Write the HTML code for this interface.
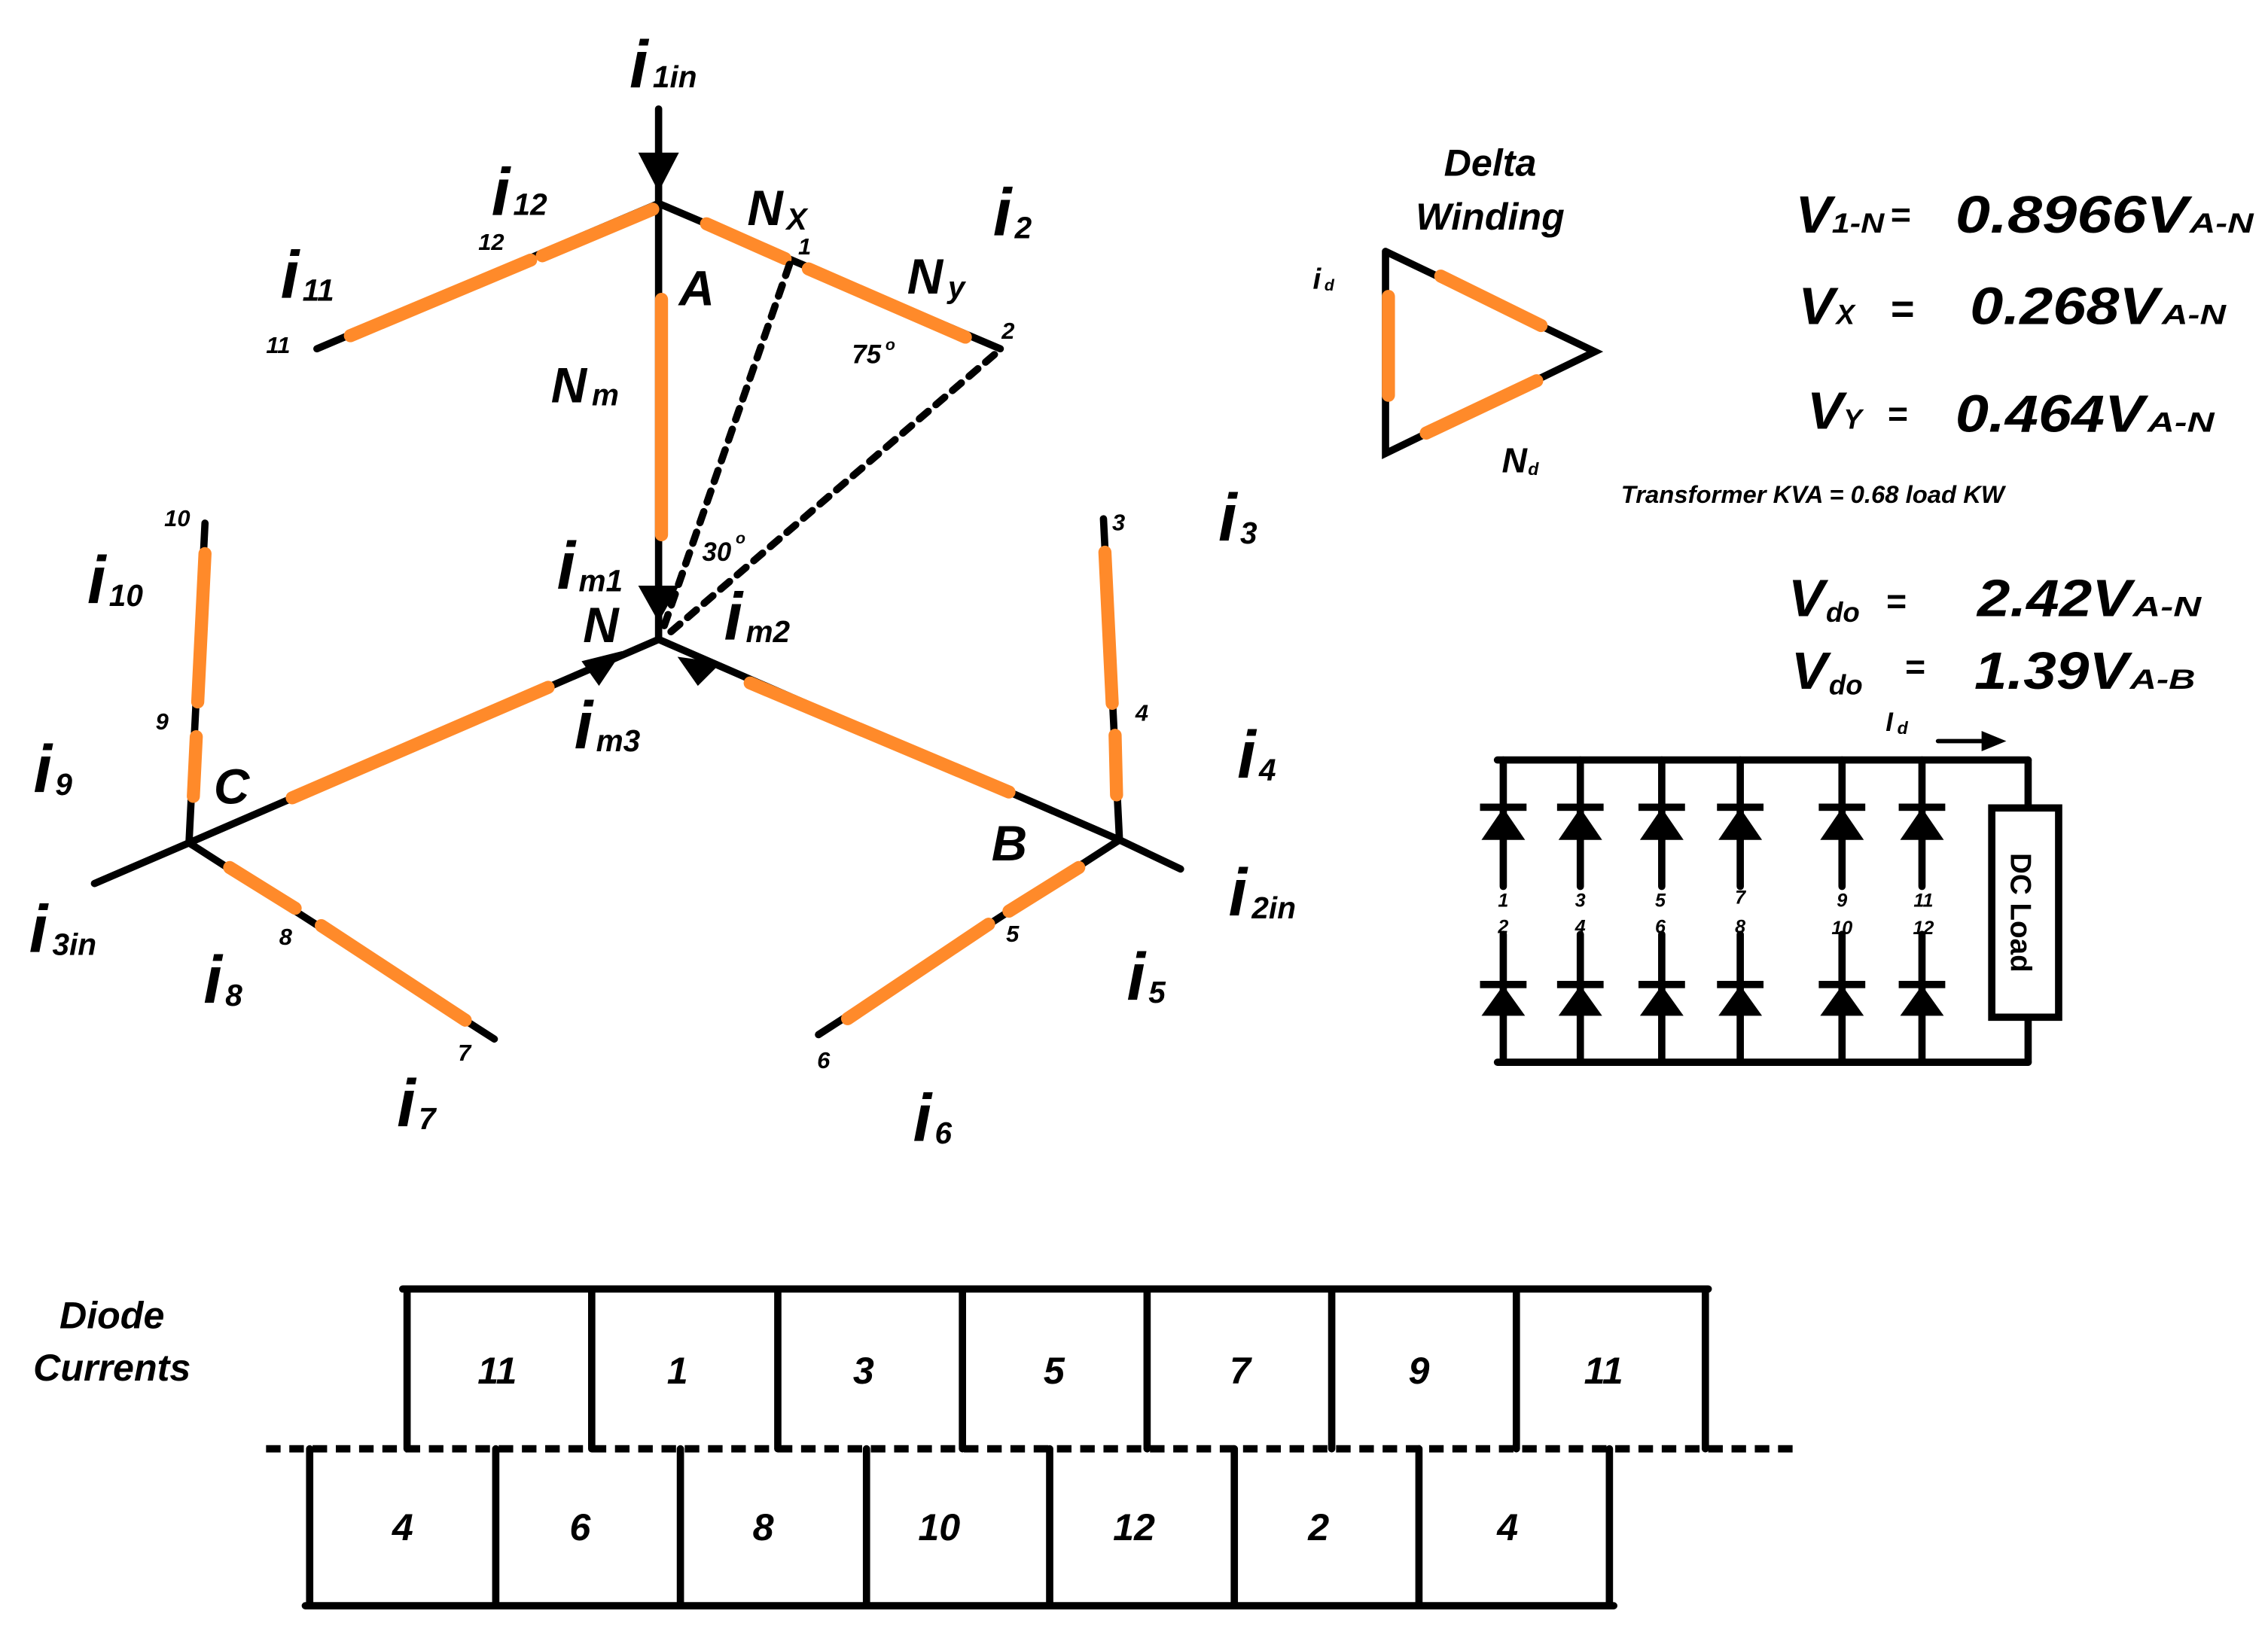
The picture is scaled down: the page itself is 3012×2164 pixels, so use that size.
<!DOCTYPE html>
<html><head><meta charset="utf-8"><style>
html,body{margin:0;padding:0;background:#fff;}
svg{display:block;}
text{font-family:"Liberation Sans",sans-serif;font-weight:bold;font-style:italic;fill:#000;}
.k{stroke:#000;stroke-width:5;stroke-linecap:round;fill:none;}
.o{stroke:#ff8a2a;stroke-width:9;stroke-linecap:round;fill:none;}
.d{stroke:#000;stroke-width:5;stroke-dasharray:8 7;stroke-linecap:round;fill:none;}
.big{font-size:46px;}
.sub{font-size:21px;}
.sm{font-size:16px;}
.lbl{font-size:34px;}
.eq{font-size:36px;}
.eqs{font-size:19px;}
</style></head><body>
<svg width="3012" height="2164" viewBox="0 0 1560 1121" preserveAspectRatio="none" xmlns="http://www.w3.org/2000/svg">
<rect width="1560" height="1121" fill="#fff"/>
<line class="k" x1="453" y1="75" x2="453" y2="140"/>
<polygon points="439,105 467,105 453,132" fill="#000"/>
<line class="k" x1="453" y1="140" x2="218" y2="240"/>
<line class="k" x1="453" y1="140" x2="688" y2="240"/>
<line class="k" x1="453" y1="140" x2="453" y2="440"/>
<line class="o" x1="241" y1="231" x2="365" y2="179"/>
<line class="o" x1="373" y1="176" x2="449" y2="144"/>
<line class="o" x1="486" y1="154" x2="540" y2="178"/>
<line class="o" x1="556" y1="185" x2="664" y2="232"/>
<line class="o" x1="455" y1="206" x2="455" y2="368"/>
<polygon points="439,403 467,403 453,428" fill="#000"/>
<line class="d" x1="543" y1="182" x2="455" y2="436"/>
<line class="d" x1="684" y1="244" x2="460" y2="436"/>
<line class="k" x1="453" y1="440" x2="130" y2="580"/>
<line class="k" x1="453" y1="440" x2="770" y2="578"/>
<line class="o" x1="201" y1="549" x2="377" y2="473"/>
<line class="o" x1="516" y1="470" x2="694" y2="545"/>
<polygon points="400,455 428,448 412,472" fill="#000"/>
<polygon points="466,452 496,456 480,472" fill="#000"/>
<line class="k" x1="130" y1="580" x2="65" y2="608"/>
<line class="k" x1="130" y1="580" x2="340" y2="715"/>
<line class="k" x1="130" y1="580" x2="141" y2="360"/>
<line class="o" x1="133" y1="548" x2="135" y2="507"/>
<line class="o" x1="136" y1="483" x2="141" y2="381"/>
<line class="o" x1="158" y1="597" x2="203" y2="625"/>
<line class="o" x1="221" y1="637" x2="320" y2="702"/>
<line class="k" x1="770" y1="578" x2="812" y2="598"/>
<line class="k" x1="770" y1="578" x2="563" y2="712"/>
<line class="k" x1="770" y1="578" x2="759" y2="357"/>
<line class="o" x1="768" y1="547" x2="767" y2="506"/>
<line class="o" x1="765" y1="484" x2="760" y2="380"/>
<line class="o" x1="742" y1="597" x2="694" y2="627"/>
<line class="o" x1="680" y1="636" x2="583" y2="701"/>
<text class="big" x="433" y="60">i</text><text class="sub" x="449" y="60">1in</text>
<text class="big" x="338" y="148">i</text><text class="sub" x="353" y="148">12</text>
<text class="big" x="193" y="205">i</text><text class="sub" x="208" y="207">11</text>
<text class="big" x="683" y="162">i</text><text class="sub" x="698" y="164">2</text>
<text class="big" x="838" y="372">i</text><text class="sub" x="853" y="374">3</text>
<text class="big" x="60" y="415">i</text><text class="sub" x="75" y="417">10</text>
<text class="big" x="23" y="545">i</text><text class="sub" x="38" y="547">9</text>
<text class="big" x="20" y="655">i</text><text class="sub" x="36" y="657">3in</text>
<text class="big" x="140" y="690">i</text><text class="sub" x="155" y="692">8</text>
<text class="big" x="273" y="775">i</text><text class="sub" x="288" y="777">7</text>
<text class="big" x="628" y="785">i</text><text class="sub" x="643" y="787">6</text>
<text class="big" x="775" y="688">i</text><text class="sub" x="790" y="690">5</text>
<text class="big" x="845" y="630">i</text><text class="sub" x="861" y="632">2in</text>
<text class="big" x="851" y="535">i</text><text class="sub" x="866" y="537">4</text>
<text class="big" x="383" y="405">i</text><text class="sub" x="398" y="407">m1</text>
<text class="big" x="498" y="440">i</text><text class="sub" x="513" y="442">m2</text>
<text class="big" x="395" y="515">i</text><text class="sub" x="410" y="517">m3</text>
<text class="lbl" x="467" y="210">A</text>
<text class="lbl" x="401" y="442">N</text>
<text class="lbl" x="147" y="553">C</text>
<text class="lbl" x="682" y="592">B</text>
<text class="lbl" x="514" y="155">N</text><text class="sub" x="541" y="158">X</text>
<text class="lbl" x="624" y="202">N</text><text class="sub" x="652" y="205">y</text>
<text class="lbl" x="379" y="277">N</text><text class="sub" x="407" y="279">m</text>
<text style="font-size:18px" x="586" y="250">75</text><text style="font-size:11px" x="609" y="241">o</text>
<text style="font-size:18px" x="483" y="386">30</text><text style="font-size:11px" x="506" y="374">o</text>
<text class="sm" x="329" y="172">12</text>
<text class="sm" x="183" y="243">11</text>
<text class="sm" x="549" y="175">1</text>
<text class="sm" x="689" y="233">2</text>
<text class="sm" x="113" y="362">10</text>
<text class="sm" x="107" y="502">9</text>
<text class="sm" x="765" y="365">3</text>
<text class="sm" x="781" y="496">4</text>
<text class="sm" x="192" y="650">8</text>
<text class="sm" x="315" y="730">7</text>
<text class="sm" x="692" y="648">5</text>
<text class="sm" x="562" y="735">6</text>
<text style="font-size:26px" x="1025" y="121" text-anchor="middle">Delta</text>
<text style="font-size:26px" x="1025" y="158" text-anchor="middle">Winding</text>
<polyline class="k" points="953,173 1097,242 953,312 953,173"/>
<line class="o" x1="955" y1="204" x2="955" y2="272"/>
<line class="o" x1="991" y1="190" x2="1060" y2="224"/>
<line class="o" x1="981" y1="298" x2="1057" y2="262"/>
<text style="font-size:20px" x="903" y="199">i</text><text style="font-size:11px" x="911" y="200">d</text>
<text style="font-size:24px" x="1033" y="325">N</text><text style="font-size:12px" x="1051" y="327">d</text>
<!-- equations -->
<text class="eq" x="1235" y="160" textLength="25" lengthAdjust="spacingAndGlyphs">V</text><text class="eqs" x="1260" y="160" textLength="36" lengthAdjust="spacingAndGlyphs">1-N</text><text class="eqs" x="1300" y="156" style="font-size:24px">=</text>
<text class="eq" x="1345" y="160" textLength="160" lengthAdjust="spacingAndGlyphs">0.8966V</text><text class="eqs" x="1506" y="160" textLength="44" lengthAdjust="spacingAndGlyphs">A-N</text>
<text class="eq" x="1237" y="223" textLength="25" lengthAdjust="spacingAndGlyphs">V</text><text class="eqs" x="1263" y="223">X</text><text x="1300" y="222" style="font-size:28px">=</text>
<text class="eq" x="1355" y="223" textLength="130" lengthAdjust="spacingAndGlyphs">0.268V</text><text class="eqs" x="1487" y="223" textLength="44" lengthAdjust="spacingAndGlyphs">A-N</text>
<text class="eq" x="1243" y="295" textLength="25" lengthAdjust="spacingAndGlyphs">V</text><text class="eqs" x="1268" y="295">Y</text><text x="1298" y="293" style="font-size:24px">=</text>
<text class="eq" x="1345" y="297" textLength="130" lengthAdjust="spacingAndGlyphs">0.464V</text><text class="eqs" x="1477" y="297" textLength="46" lengthAdjust="spacingAndGlyphs">A-N</text>
<text style="font-size:17px" x="1115" y="346">Transformer KVA = 0.68 load KW</text>
<text class="eq" x="1230" y="424" textLength="25" lengthAdjust="spacingAndGlyphs">V</text><text class="eqs" x="1256" y="428">do</text><text x="1297" y="422" style="font-size:24px">=</text>
<text class="eq" x="1360" y="424" textLength="106" lengthAdjust="spacingAndGlyphs">2.42V</text><text class="eqs" x="1467" y="424" textLength="47" lengthAdjust="spacingAndGlyphs">A-N</text>
<text class="eq" x="1232" y="474" textLength="25" lengthAdjust="spacingAndGlyphs">V</text><text class="eqs" x="1258" y="478">do</text><text x="1310" y="467" style="font-size:24px">=</text>
<text class="eq" x="1358" y="474" textLength="106" lengthAdjust="spacingAndGlyphs">1.39V</text><text class="eqs" x="1465" y="474" textLength="45" lengthAdjust="spacingAndGlyphs">A-B</text>
<!-- rectifier -->
<text style="font-size:18px" x="1297" y="503">I</text><text style="font-size:12px" x="1305" y="505">d</text>
<line class="k" x1="1333" y1="510" x2="1365" y2="510" style="stroke-width:3"/>
<polygon points="1363,503 1380,510 1363,517" fill="#000"/>
<line class="k" x1="1030" y1="523" x2="1395" y2="523"/>
<line class="k" x1="1030" y1="731" x2="1395" y2="731"/>
<g fill="#000">
<g>
<line class="k" x1="1034" y1="523" x2="1034" y2="610"/><rect x="1018" y="553" width="32" height="5"/><polygon points="1034,556 1019,578 1049,578"/>
<line class="k" x1="1034" y1="643" x2="1034" y2="731"/><rect x="1018" y="675" width="32" height="5"/><polygon points="1034,678 1019,699 1049,699"/>
</g>
<g>
<line class="k" x1="1087" y1="523" x2="1087" y2="610"/><rect x="1071" y="553" width="32" height="5"/><polygon points="1087,556 1072,578 1102,578"/>
<line class="k" x1="1087" y1="643" x2="1087" y2="731"/><rect x="1071" y="675" width="32" height="5"/><polygon points="1087,678 1072,699 1102,699"/>
</g>
<g>
<line class="k" x1="1143" y1="523" x2="1143" y2="610"/><rect x="1127" y="553" width="32" height="5"/><polygon points="1143,556 1128,578 1158,578"/>
<line class="k" x1="1143" y1="643" x2="1143" y2="731"/><rect x="1127" y="675" width="32" height="5"/><polygon points="1143,678 1128,699 1158,699"/>
</g>
<g>
<line class="k" x1="1197" y1="523" x2="1197" y2="610"/><rect x="1181" y="553" width="32" height="5"/><polygon points="1197,556 1182,578 1212,578"/>
<line class="k" x1="1197" y1="643" x2="1197" y2="731"/><rect x="1181" y="675" width="32" height="5"/><polygon points="1197,678 1182,699 1212,699"/>
</g>
<g>
<line class="k" x1="1267" y1="523" x2="1267" y2="610"/><rect x="1251" y="553" width="32" height="5"/><polygon points="1267,556 1252,578 1282,578"/>
<line class="k" x1="1267" y1="643" x2="1267" y2="731"/><rect x="1251" y="675" width="32" height="5"/><polygon points="1267,678 1252,699 1282,699"/>
</g>
<g>
<line class="k" x1="1322" y1="523" x2="1322" y2="610"/><rect x="1306" y="553" width="32" height="5"/><polygon points="1322,556 1307,578 1337,578"/>
<line class="k" x1="1322" y1="643" x2="1322" y2="731"/><rect x="1306" y="675" width="32" height="5"/><polygon points="1322,678 1307,699 1337,699"/>
</g>
</g>
<g style="font-size:13px" text-anchor="middle">
<text x="1034" y="624">1</text><text x="1034" y="642">2</text>
<text x="1087" y="624">3</text><text x="1087" y="642">4</text>
<text x="1142" y="624">5</text><text x="1142" y="642">6</text>
<text x="1197" y="622">7</text><text x="1197" y="642">8</text>
<text x="1267" y="624">9</text><text x="1267" y="643">10</text>
<text x="1323" y="624">11</text><text x="1323" y="643">12</text>
</g>
<line class="k" x1="1395" y1="523" x2="1395" y2="556"/>
<line class="k" x1="1395" y1="700" x2="1395" y2="731"/>
<rect x="1370" y="556" width="46" height="144" fill="#fff" stroke="#000" stroke-width="5"/>
<text transform="translate(1383,628) rotate(90)" text-anchor="middle" style="font-size:20px;font-style:normal">DC Load</text>
<text style="font-size:26px" x="77" y="914" text-anchor="middle">Diode</text>
<text style="font-size:26px" x="77" y="950" text-anchor="middle">Currents</text>
<line class="k" x1="277" y1="887" x2="1175" y2="887"/>
<g class="k">
<line x1="280" y1="887" x2="280" y2="997"/><line x1="407" y1="887" x2="407" y2="997"/>
<line x1="535" y1="887" x2="535" y2="997"/><line x1="662" y1="887" x2="662" y2="997"/>
<line x1="789" y1="887" x2="789" y2="997"/><line x1="916" y1="887" x2="916" y2="997"/>
<line x1="1043" y1="887" x2="1043" y2="997"/><line x1="1173" y1="887" x2="1173" y2="997"/>
<line x1="213" y1="997" x2="213" y2="1105"/><line x1="341" y1="997" x2="341" y2="1105"/>
<line x1="468" y1="997" x2="468" y2="1105"/><line x1="596" y1="997" x2="596" y2="1105"/>
<line x1="722" y1="997" x2="722" y2="1105"/><line x1="849" y1="997" x2="849" y2="1105"/>
<line x1="976" y1="997" x2="976" y2="1105"/><line x1="1107" y1="997" x2="1107" y2="1105"/>
</g>
<line x1="183" y1="997" x2="1235" y2="997" stroke="#000" stroke-width="5" stroke-dasharray="10 6"/>
<line class="k" x1="210" y1="1105" x2="1110" y2="1105"/>
<g text-anchor="middle" style="font-size:26px">
<text x="342" y="952">11</text><text x="466" y="952">1</text><text x="594" y="952">3</text>
<text x="725" y="952">5</text><text x="853" y="952">7</text><text x="976" y="952">9</text><text x="1103" y="952">11</text>
<text x="277" y="1060">4</text><text x="399" y="1060">6</text><text x="525" y="1060">8</text>
<text x="646" y="1060">10</text><text x="780" y="1060">12</text><text x="907" y="1060">2</text><text x="1037" y="1060">4</text>
</g>
</svg>
</body></html>
